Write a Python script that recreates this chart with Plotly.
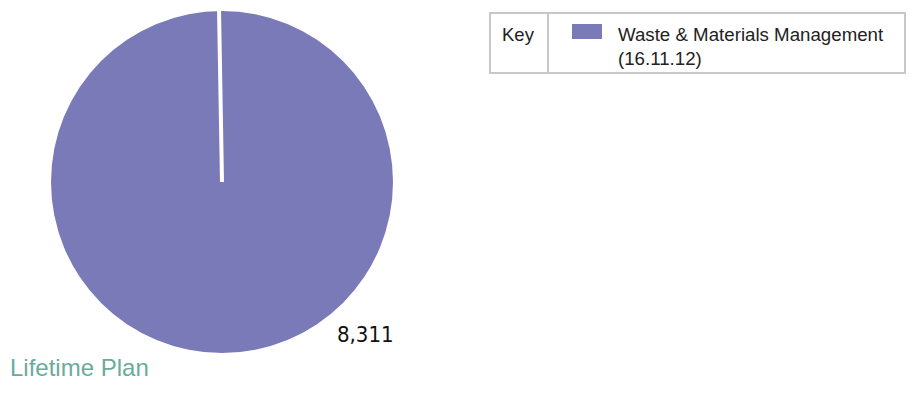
import math
import plotly.graph_objects as go

categories = ["Waste & Materials Management (16.11.12)"]
values = [8311]
legend_title = "Key"
legend_label = "Waste & Materials Management<br>(16.11.12)"
chart_title = "Lifetime Plan"

W, H = 912, 407
pie_color = "#7b7ab9"

# pie domain in pixels
cx, cy, r = 222, 182, 171
dx0, dx1 = (cx - r) / W, (cx + r) / W
dy0, dy1 = (H - (cy + r)) / H, (H - (cy - r)) / H

fig = go.Figure()
fig.add_trace(go.Pie(
    labels=categories, values=values, sort=False, direction="clockwise",
    rotation=0, marker=dict(colors=[pie_color], line=dict(color="white", width=0)),
    textinfo="none", hoverinfo="label+value", showlegend=False,
    domain=dict(x=[dx0, dx1], y=[dy0, dy1]),
))

shapes = []
# white slice seam from centre to top edge
ang = math.radians(-1.0)
tx, ty = cx + r * math.sin(ang), cy - r * math.cos(ang)
shapes.append(dict(type="line", xref="paper", yref="paper",
                   x0=cx / W, y0=1 - cy / H, x1=tx / W, y1=1 - (ty - 2) / H,
                   line=dict(color="white", width=4)))

# legend box
bx0, bx1, by0, by1, kx = 490, 905, 13, 73, 548
box = dict(xref="paper", yref="paper", line=dict(color="#c8c8c8", width=2))
shapes.append(dict(type="rect", x0=bx0 / W, x1=bx1 / W, y0=1 - by1 / H, y1=1 - by0 / H,
                   fillcolor="white", **box))
shapes.append(dict(type="line", x0=kx / W, x1=kx / W, y0=1 - by1 / H, y1=1 - by0 / H, **box))
shapes.append(dict(type="rect", xref="paper", yref="paper",
                   x0=572 / W, x1=602 / W, y0=1 - 39 / H, y1=1 - 24 / H,
                   fillcolor=pie_color, line=dict(width=0)))

font = "Liberation Sans, Arial, sans-serif"
annotations = [
    dict(text=legend_title, x=500 / W, y=1 - 34 / H, xanchor="left", yanchor="middle",
         showarrow=False, font=dict(family=font, size=18.5, color="#222")),
    dict(text=legend_label, x=616 / W, y=1 - 46 / H,
         xanchor="left", yanchor="middle", align="left", showarrow=False,
         font=dict(family=font, size=18.7, color="#222")),
    dict(text=f"{values[0]:,}", x=365 / W, y=1 - 334 / H, xanchor="center", yanchor="middle",
         showarrow=False, font=dict(family="Liberation Sans Narrow, Arial Narrow, DejaVu Sans Condensed, sans-serif",
                                    size=22, color="#111")),
    dict(text=chart_title, x=8 / W, y=1 - 367 / H, xanchor="left", yanchor="middle",
         showarrow=False, font=dict(family=font, size=24, color="#6aab9c")),
]

fig.update_layout(width=W, height=H, margin=dict(l=0, r=0, t=0, b=0),
                  paper_bgcolor="white", plot_bgcolor="white",
                  shapes=shapes, annotations=annotations, showlegend=False)
fig.write_html("out.html")
